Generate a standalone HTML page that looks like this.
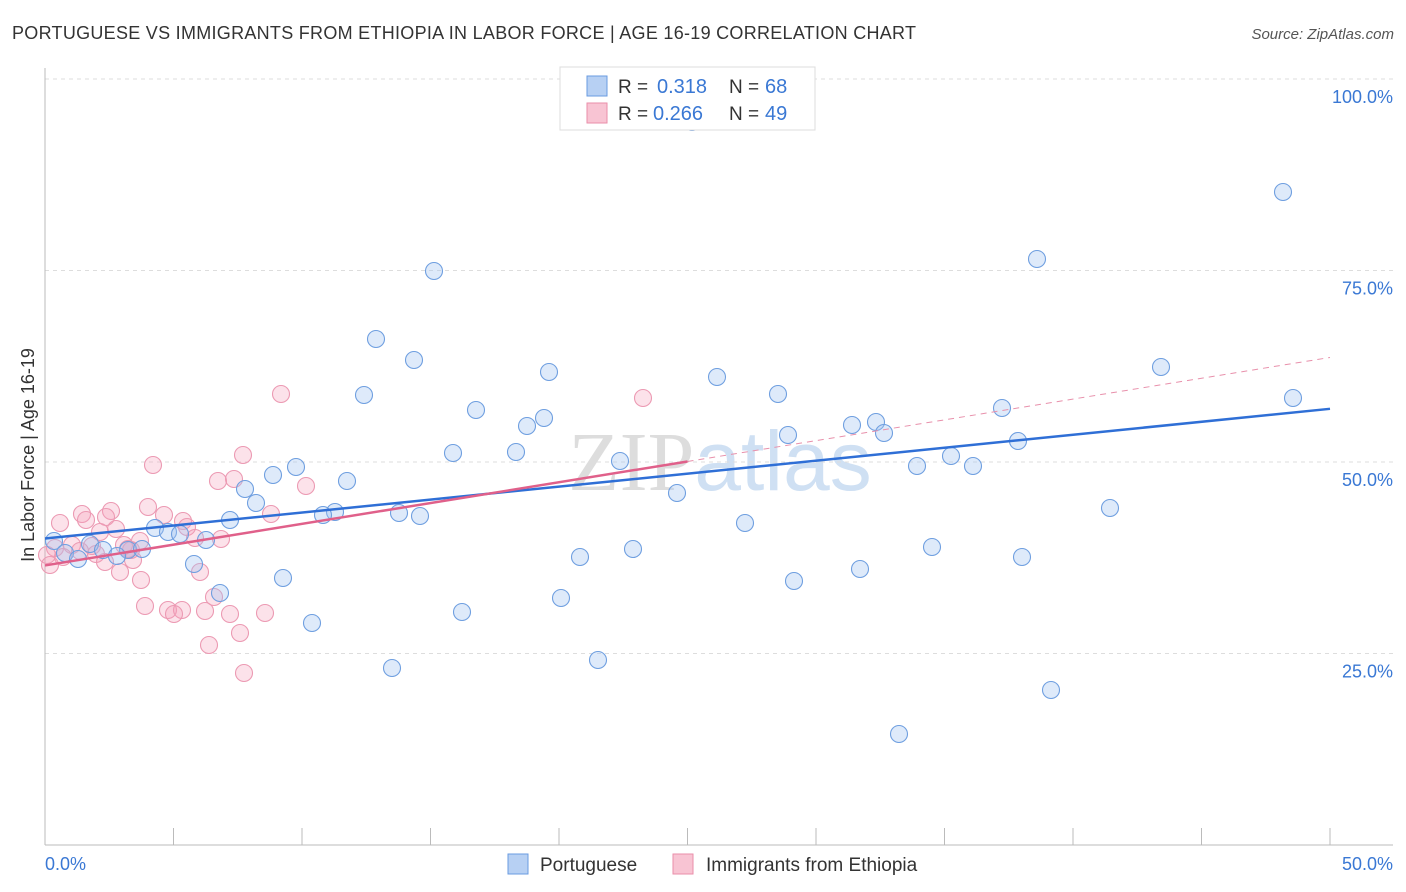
<!DOCTYPE html>
<html><head><meta charset="utf-8"><style>
body{margin:0;background:#fff;font-family:"Liberation Sans",sans-serif;}
svg{display:block}
</style></head><body>
<svg id="c" width="1406" height="892">
<text x="12" y="39" font-size="18" fill="#333" textLength="904">PORTUGUESE VS IMMIGRANTS FROM ETHIOPIA IN LABOR FORCE | AGE 16-19 CORRELATION CHART</text>
<text x="1394" y="39" font-size="15" fill="#555" font-style="italic" text-anchor="end">Source: ZipAtlas.com</text>
<text x="720" y="490" font-size="84" fill="#ddd" font-family="Liberation Serif" text-anchor="middle">ZIP<tspan fill="#cfe0f3" font-family="Liberation Sans">atlas</tspan></text>
<g id="grid"></g><g id="pts"></g><g id="lines"></g>
<text transform="translate(34,455) rotate(-90)" font-size="18" fill="#333" text-anchor="middle">In Labor Force | Age 16-19</text>
<text x="45" y="870" font-size="18" fill="#3a78d4">0.0%</text>
<text x="1393" y="870" font-size="18" fill="#3a78d4" text-anchor="end">50.0%</text>
<g>
<rect x="560" y="67" width="255" height="63" fill="#fff" stroke="#ddd"/>
<rect x="587" y="76" width="20" height="20" fill="#b7d0f3" stroke="#6a9be0"/>
<rect x="587" y="103" width="20" height="20" fill="#f8c4d3" stroke="#ea8eaa"/>
<text x="618" y="93" font-size="19" fill="#333">R =</text><text x="657" y="93" font-size="20" fill="#3a78d4">0.318</text>
<text x="729" y="93" font-size="19" fill="#333">N =</text><text x="765" y="93" font-size="20" fill="#3a78d4">68</text>
<text x="618" y="120" font-size="19" fill="#333">R =</text><text x="653" y="120" font-size="20" fill="#3a78d4">0.266</text>
<text x="729" y="120" font-size="19" fill="#333">N =</text><text x="765" y="120" font-size="20" fill="#3a78d4">49</text>
</g>
<g>
<rect x="508" y="854" width="20" height="20" fill="#b7d0f3" stroke="#6a9be0"/>
<text x="540" y="871" font-size="19" fill="#333">Portuguese</text>
<rect x="673" y="854" width="20" height="20" fill="#f8c4d3" stroke="#ea8eaa"/>
<text x="706" y="871" font-size="19" fill="#333">Immigrants from Ethiopia</text>
</g>
</svg>
<script>
const blueX=[692,1283,434,1037,376,414,1161,549,717,364,778,1293,476,1002,544,527,852,876,884,788,1018,453,516,951,620,917,973,296,273,347,245,677,256,1110,335,323,399,420,230,745,155,168,180,206,54,90,932,633,103,128,142,65,580,1022,78,117,194,860,283,794,220,561,462,312,598,392,1051,899];
const blueY=[122,192,271,259,339,360,367,372,377,395,394,398,410,408,418,426,425,422,433,435,441,453,452,456,461,466,466,467,475,481,489,493,503,508,512,515,513,516,520,523,528,532,534,540,541,544,547,549,550,550,549,553,557,557,559,556,564,569,578,581,593,598,612,623,660,668,690,734];
const pinkX=[281,643,153,243,234,218,306,148,111,82,60,86,164,106,183,187,271,116,100,221,195,140,124,72,92,55,131,47,96,63,105,133,50,120,200,141,214,145,168,182,174,205,230,265,240,209,244,128,80];
const pinkY=[394,398,465,455,479,481,486,507,511,514,523,520,515,517,521,527,514,529,532,539,538,541,545,545,546,548,550,555,554,557,562,560,565,572,572,580,597,606,610,610,614,611,614,613,633,645,673,549,551];
const yTicks=[25,50,75,100];
const px2x=p=>(p-45)/1285*50, px2y=p=>(845-p)/766*100;
const blueData=blueX.map((v,i)=>[px2x(v),px2y(blueY[i])]);
const pinkData=pinkX.map((v,i)=>[px2x(v),px2y(pinkY[i])]);
const X=v=>45+v/50*1285, Y=v=>845-v/100*766;
const NS='http://www.w3.org/2000/svg';
function mk(t,a,p){const e=document.createElementNS(NS,t);for(const k in a)e.setAttribute(k,a[k]);p.appendChild(e);return e;}
const g=document.getElementById('grid');
yTicks.forEach(t=>{
 const l=mk('line',{x1:45,x2:1393,y1:Y(t),y2:Y(t),stroke:'#ddd','stroke-dasharray':'4,4'},g);
 
 
 const tx=mk('text',{x:1393,y:Y(t)+24,'font-size':18,fill:'#3a78d4','text-anchor':'end'},g);tx.textContent=t.toFixed(1)+'%';
 
 
});
mk('line',{x1:45,x2:45,y1:68,y2:845,stroke:'#bbb'},g);
mk('line',{x1:45,x2:1393,y1:845,y2:845,stroke:'#bbb'},g);
for(let i=0;i<=10;i++){mk('line',{x1:X(i*5),x2:X(i*5),y1:828,y2:845,stroke:'#bbb'},g);}
const p=document.getElementById('pts');
pinkData.forEach(d=>{const c=mk('circle',{cx:X(d[0]),cy:Y(d[1]),r:8.5,fill:'rgba(244,160,185,0.3)',stroke:'#ec9ab3','stroke-width':1.1},p);
 
 });
blueData.forEach(d=>{const c=mk('circle',{cx:X(d[0]),cy:Y(d[1]),r:8.5,fill:'rgba(160,195,240,0.35)',stroke:'#6f9fe0','stroke-width':1.1},p);
 
 });
function fit(d){const n=d.length;let sx=0,sy=0,sxx=0,sxy=0;d.forEach(([x,y])=>{sx+=x;sy+=y;sxx+=x*x;sxy+=x*y;});const b=(n*sxy-sx*sy)/(n*sxx-sx*sx);return [b,(sy-b*sx)/n];}
const L=document.getElementById('lines');
const [bb,ba]=fit(blueData),[pb,pa]=fit(pinkData);
let e=mk('line',{x1:X(0),y1:Y(ba),x2:X(50),y2:Y(ba+bb*50),stroke:'#2f6fd6','stroke-width':2.5},L);


e=mk('line',{x1:X(0),y1:Y(pa),x2:X(25),y2:Y(pa+pb*25),stroke:'#e0608a','stroke-width':2.5},L);


e=mk('line',{x1:X(25),y1:Y(pa+pb*25),x2:X(50),y2:Y(pa+pb*50),stroke:'#e890ab','stroke-width':1,'stroke-dasharray':'6,5'},L);


</script>
</body></html>
